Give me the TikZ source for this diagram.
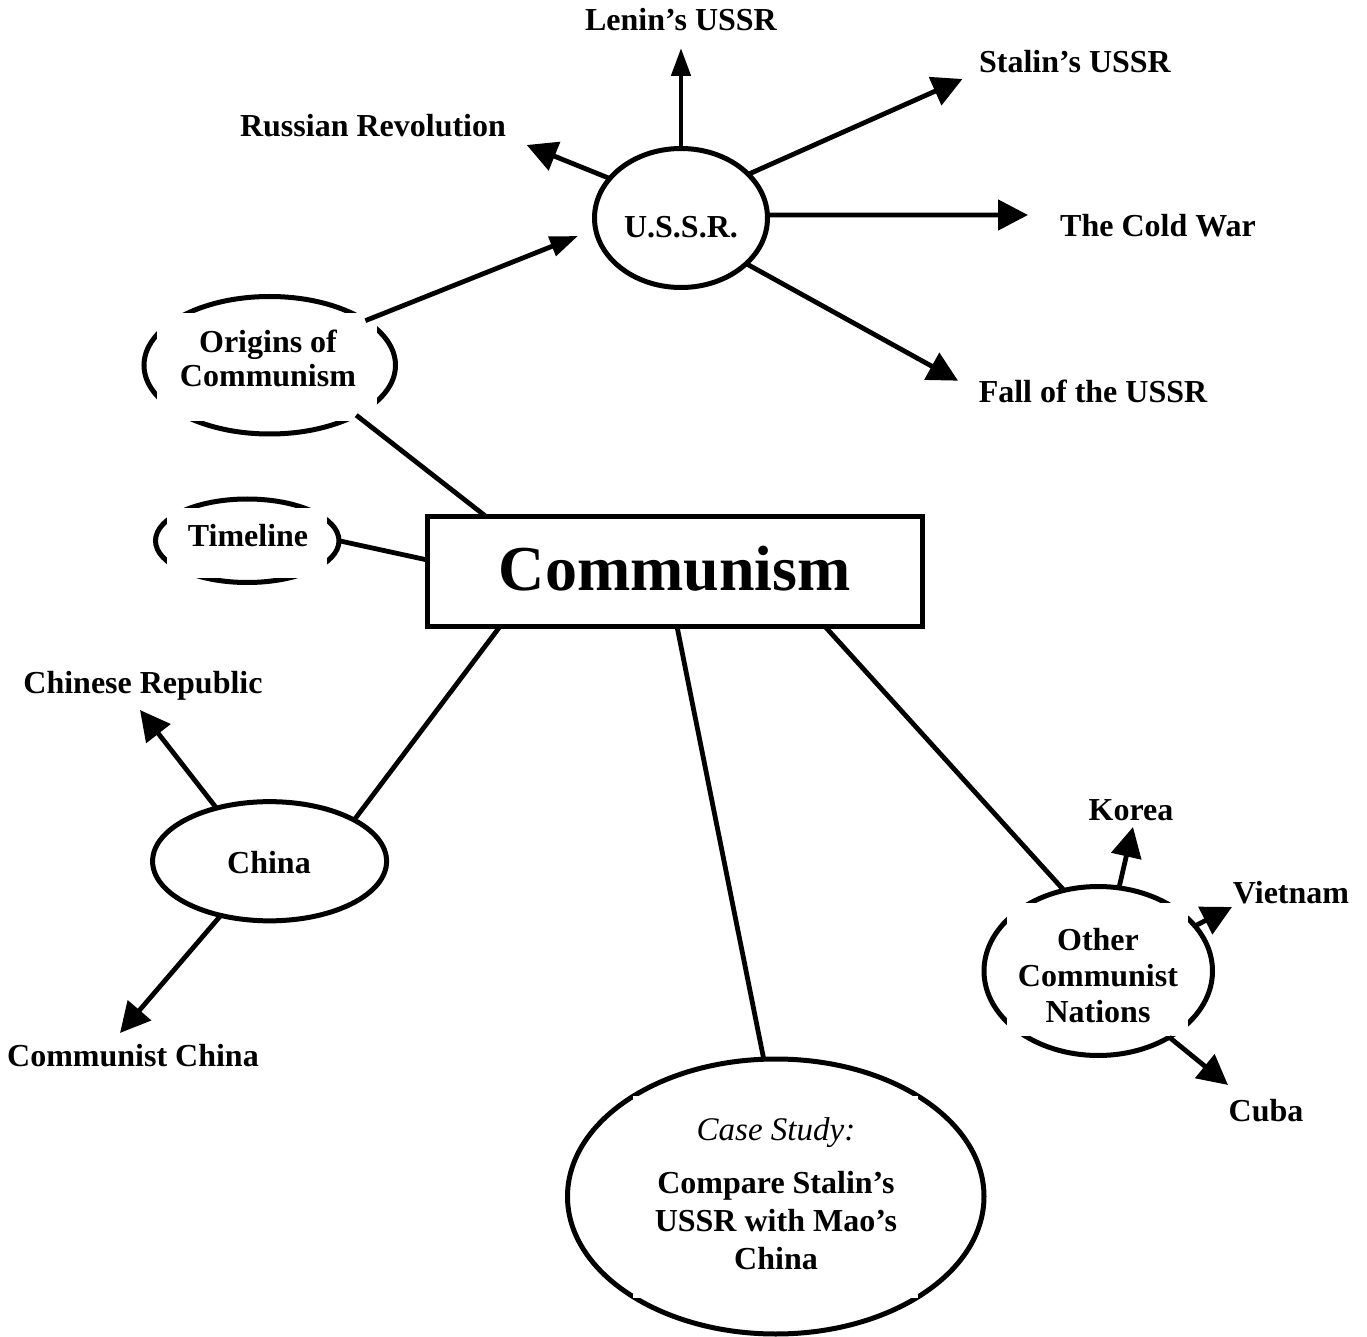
\documentclass[tikz,border=0pt]{standalone}
\usepackage{fontspec}
\setmainfont{Liberation Serif}
\usetikzlibrary{shapes.geometric,arrows.meta}
\begin{document}
\begin{tikzpicture}[x=0.5pt,y=-0.5pt,
  every node/.style={inner sep=0pt,outer sep=0pt},
  bubble/.style={ellipse,draw,line width=2.5pt},
  mask/.style={fill=white,draw=none},
  lbl/.style={anchor=base,font=\fontsize{16}{19}\selectfont\bfseries},
  link/.style={line width=2.4pt},
  arr/.style={link,-{Triangle[length=15pt,width=15pt]}},
]
\useasboundingbox (0,0) rectangle (1367,1337);

% central box
\node[draw,line width=2.5pt,minimum width=247.25pt,minimum height=55pt] (comm) at (674.75,571.5) {};
\node[anchor=base,font=\fontsize{32}{38}\selectfont\bfseries] (commtext) at (675,590) {Communism};

% U.S.S.R.
\node[bubble,minimum width=86.5pt,minimum height=69.5pt] (ussr) at (681,218) {};
\node[lbl] (ussrtext) at (681,238) {U.S.S.R.};

% Origins of Communism
\node[bubble,minimum width=125.75pt,minimum height=68.75pt] (origins) at (269.75,365.25) {};
\node[mask,minimum width=110pt,minimum height=54pt] (originsbox) at (267,367) {};
\node[lbl] (originsA) at (268,353) {Origins of};
\node[lbl] (originsB) at (268,387) {Communism};

% Timeline
\node[bubble,minimum width=91.75pt,minimum height=41.75pt] (timeline) at (247.25,540.75) {};
\node[mask,minimum width=80pt,minimum height=35pt] (timelinebox) at (247,543) {};
\node[lbl] (timelinetext) at (248,546) {Timeline};

% China
\node[bubble,minimum width=117pt,minimum height=59.6pt] (china) at (269.6,861.25) {};
\node[lbl] (chinatext) at (269,873) {China};

% Case study
\node[bubble,minimum width=208.25pt,minimum height=137.5pt] (case) at (775.75,1196.5) {};
\node[mask,minimum width=142.5pt,minimum height=101pt] (casebox) at (775.5,1197) {};
\node[anchor=base,font=\fontsize{16.5}{19}\selectfont\itshape] (caseA) at (776,1140) {Case Study:};
\node[lbl] (caseB) at (776,1193) {Compare Stalin’s};
\node[lbl] (caseC) at (776,1231) {USSR with Mao’s};
\node[lbl] (caseD) at (776,1269) {China};

% Other communist nations
\node[bubble,minimum width=114.25pt,minimum height=84.5pt] (other) at (1098.25,971) {};
\node[mask,minimum width=90.5pt,minimum height=66.5pt] (otherbox) at (1097.5,969.5) {};
\node[lbl] (otherA) at (1098,950) {Other};
\node[lbl] (otherB) at (1098,986) {Communist};
\node[lbl] (otherC) at (1098,1022) {Nations};

% outer labels
\node[lbl] (lenin) at (681,31) {Lenin’s USSR};
\node[lbl] (stalin) at (1075,73) {Stalin’s USSR};
\node[lbl] (russian) at (373,137) {Russian Revolution};
\node[lbl] (coldwar) at (1158,237) {The Cold War};
\node[lbl] (fall) at (1093,403) {Fall of the USSR};
\node[lbl] (chrep) at (143,693) {Chinese Republic};
\node[lbl] (comchina) at (133,1066) {Communist China};
\node[lbl] (korea) at (1131,820) {Korea};
\node[lbl] (vietnam) at (1291,903) {Vietnam};
\node[lbl] (cuba) at (1266,1121) {Cuba};

% arrow tips next to the labels
\coordinate (leninTip) at (681,48);
\coordinate (stalinTip) at (962.5,79);
\coordinate (russianTip) at (526.7,145);
\coordinate (coldTip) at (1028,215);
\coordinate (fallTip) at (958,380.7);
\coordinate (ussrTip) at (578,236);
\coordinate (chrepTip) at (140,710);
\coordinate (comchinaTip) at (120,1033);
\coordinate (koreaTip) at (1133,827);
\coordinate (vietTip) at (1232,907);
\coordinate (cubaTip) at (1228,1085);

% arrows out of U.S.S.R.
\draw[arr,-{Triangle[length=14pt,width=9.5pt]}] (ussr.90) -- (leninTip);
\draw[arr] (ussr.33.1) -- (stalinTip);
\draw[arr] (ussr.151.9) -- (russianTip);
\draw[arr] (ussr.2) -- (coldTip);
\draw[arr] (ussr.-35.2) -- (fallTip);
\draw[arr,-{Triangle[length=14pt,width=10pt]}] (origins.25.7) -- (ussrTip);

% links from the central box
\draw[link] ([xshift=29.25pt]comm.north west) -- (origins.-30.8);
\draw[link] ([yshift=-21.75pt]comm.north west) -- (timeline.0);
\draw[link] ([xshift=36.25pt]comm.south west) -- (china.26.6);
\draw[link] ([xshift=124.75pt]comm.south west) -- (case.95.55);
\draw[link] ([xshift=198.75pt]comm.south west) -- (other.113.3);

% China branches
\draw[arr] (china.135.2) -- (chrepTip);
\draw[arr] (china.-132.8) -- (comchinaTip);

% other nations branches
\draw[arr] (other.76.8) -- (koreaTip);
\draw[arr] (other.25) -- (vietTip);
\draw[arr] (other.-43.4) -- (cubaTip);
\end{tikzpicture}
\end{document}
